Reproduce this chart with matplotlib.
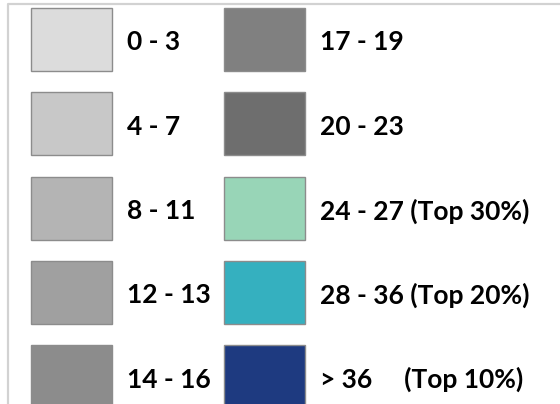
import matplotlib
matplotlib.use("Agg")
import matplotlib.pyplot as plt
from matplotlib.patches import Rectangle

labels_left = ["0 - 3", "4 - 7", "8 - 11", "12 - 13", "14 - 16"]
labels_right = ["17 - 19", "20 - 23", "24 - 27 (Top 30%)", "28 - 36 (Top 20%)", "> 36     (Top 10%)"]
colors_left = ["#dcdcdc", "#c8c8c8", "#b4b4b4", "#a0a0a0", "#8c8c8c"]
colors_right = ["#808080", "#6e6e6e", "#98d5b7", "#35b0bf", "#1e3a80"]

W, H = 560, 404
fig = plt.figure(figsize=(W / 100, H / 100), dpi=100)
ax = fig.add_axes([0, 0, 1, 1])
ax.set_xlim(0, W)
ax.set_ylim(H, 0)
ax.axis("off")

# frame
ax.plot([8, 8, W], [H, 4, 4], color="#d2d2d2", lw=1.6, solid_capstyle="butt")

pitch = 84.3
y0 = 8
sw_h = 63
cols = [(31, 127, labels_left, colors_left), (224, 320, labels_right, colors_right)]
for sx, tx, labs, cols_ in cols:
    for i, (lab, c) in enumerate(zip(labs, cols_)):
        y = y0 + i * pitch
        ax.add_patch(Rectangle((sx, y), 81, sw_h, facecolor=c, edgecolor="#8c8c8c", lw=1.0))
        ax.text(tx, y + sw_h / 2 + 3, lab, fontsize=19, fontweight="bold",
                family="Lato", va="center", ha="left", color="black")

fig.savefig("out.png", dpi=100)
